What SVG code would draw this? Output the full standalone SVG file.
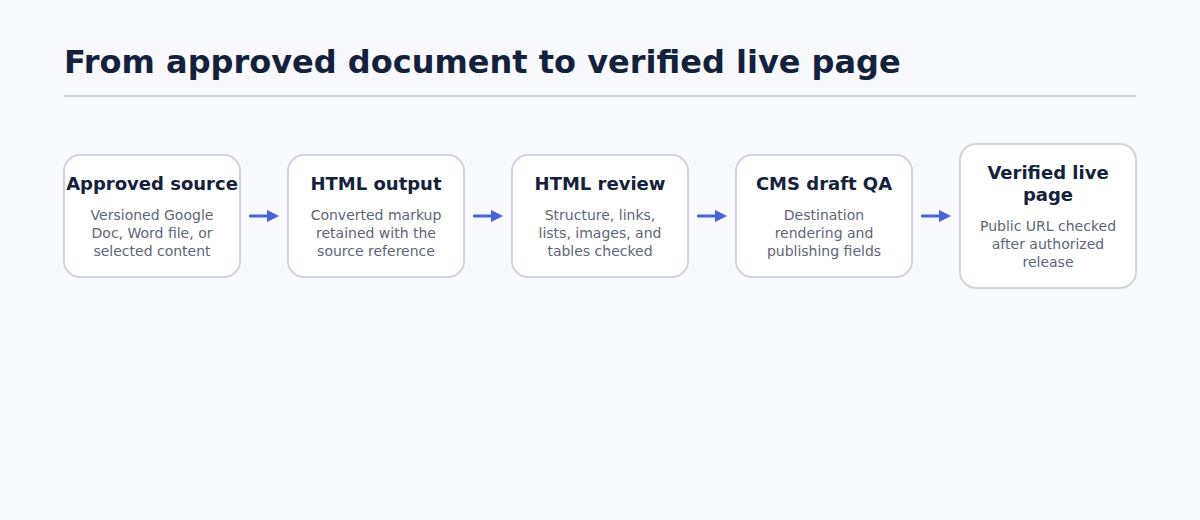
<svg xmlns="http://www.w3.org/2000/svg" width="1200" height="520" viewBox="0 0 1200 520">
<defs>
<style>
.box{fill:#fff;stroke:#cfd5df;stroke-width:2}
.t{font-family:"DejaVu Sans",sans-serif;font-weight:bold;font-size:18px;fill:#14213d;text-anchor:middle}
.b{font-family:"DejaVu Sans",sans-serif;font-size:14px;fill:#5c6677;text-anchor:middle}
.c{stroke:#4464d4;stroke-width:3;fill:none;marker-end:url(#ah)}
</style>
<marker id="ah" markerWidth="4" markerHeight="4" refX="2" refY="2" orient="auto"><path d="M0,0L4,2L0,4z" fill="#4464d4"/></marker>
</defs>
<rect width="1200" height="520" fill="#f7f9fc"/>
<text x="64" y="73" font-family="DejaVu Sans,sans-serif" font-weight="bold" font-size="32" fill="#14213d">From approved document to verified live page</text>
<line x1="64" y1="96" x2="1136" y2="96" stroke="#cfd5df" stroke-width="2"/>
<g id="connectors">
<line class="c" x1="249" y1="216" x2="273" y2="216"/>
<line class="c" x1="473" y1="216" x2="497" y2="216"/>
<line class="c" x1="697" y1="216" x2="721" y2="216"/>
<line class="c" x1="921" y1="216" x2="945" y2="216"/>
</g>
<g id="n1"><rect class="box" x="64" y="155" width="176" height="122" rx="16"/><text class="t" x="152" y="190">Approved source</text><text class="b" x="152" y="220">Versioned Google</text><text class="b" x="152" y="238">Doc, Word file, or</text><text class="b" x="152" y="256">selected content</text></g>
<g id="n2"><rect class="box" x="288" y="155" width="176" height="122" rx="16"/><text class="t" x="376" y="190">HTML output</text><text class="b" x="376" y="220">Converted markup</text><text class="b" x="376" y="238">retained with the</text><text class="b" x="376" y="256">source reference</text></g>
<g id="n3"><rect class="box" x="512" y="155" width="176" height="122" rx="16"/><text class="t" x="600" y="190">HTML review</text><text class="b" x="600" y="220">Structure, links,</text><text class="b" x="600" y="238">lists, images, and</text><text class="b" x="600" y="256">tables checked</text></g>
<g id="n4"><rect class="box" x="736" y="155" width="176" height="122" rx="16"/><text class="t" x="824" y="190">CMS draft QA</text><text class="b" x="824" y="220">Destination</text><text class="b" x="824" y="238">rendering and</text><text class="b" x="824" y="256">publishing fields</text></g>
<g id="n5"><rect class="box" x="960" y="144" width="176" height="144" rx="16"/><text class="t" x="1048" y="179">Verified live</text><text class="t" x="1048" y="201">page</text><text class="b" x="1048" y="231">Public URL checked</text><text class="b" x="1048" y="249">after authorized</text><text class="b" x="1048" y="267">release</text></g>
</svg>
